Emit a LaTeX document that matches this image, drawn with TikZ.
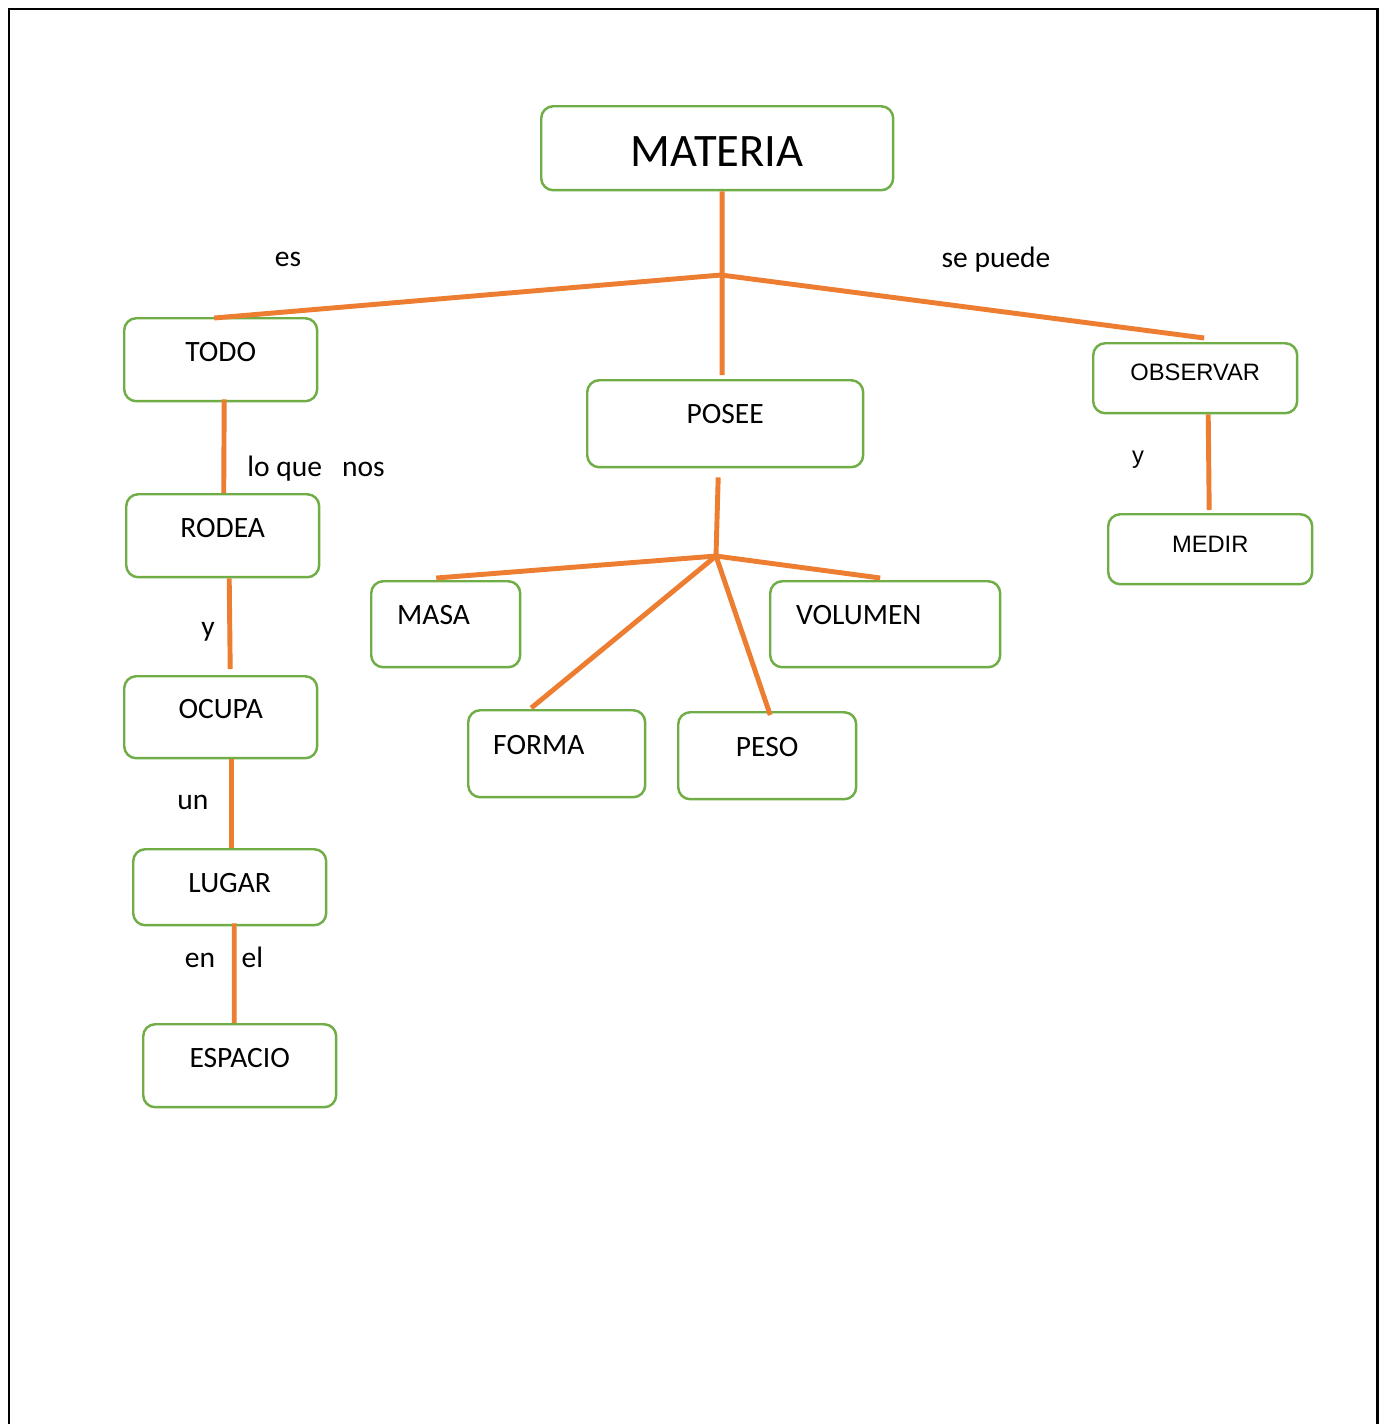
\documentclass[tikz,border=0pt]{standalone}
\usepackage{fontspec}
\setmainfont{Carlito}
\newfontfamily\arialfont{Liberation Sans}
\usetikzlibrary{positioning}
\definecolor{leaf}{RGB}{112,173,71}
\definecolor{tangerine}{RGB}{237,125,49}

\begin{document}
\begin{tikzpicture}[x=0.02cm,y=-0.02cm,
    box/.style={draw=leaf,line width=1.4pt,rounded corners=0.24cm,anchor=north west,inner ysep=0pt,
      align=center,text height=0.87cm,font=\fontsize{16.8}{20}\selectfont},
    lbox/.style={box,align=left,inner xsep=0.52cm},
    arialtext/.style={font=\arialfont\fontsize{13.5}{16}\selectfont},
    link/.style={draw=tangerine,line width=2.8pt},
    word/.style={font=\fontsize{16.8}{20}\selectfont}]
    \useasboundingbox (0,0) rectangle (1385,1424);
    \draw[line width=1.7pt] (9,1440) -- (9,9) -- (1377,9) -- (1377,1440);

    % concept boxes
    \node[box,font=\fontsize{26.5}{30}\selectfont,text height=1.21cm,text depth=0.47cm,minimum width=7.04cm] (materia) at (540,105) {MATERIA};
    \node[box,text depth=0.79cm,minimum width=3.86cm] (todo) at (123,317) {TODO};
    \node[box,text depth=0.79cm,minimum width=3.86cm] (rodea) at (125,493) {RODEA};
    \node[box,text height=0.85cm,text depth=0.79cm,minimum width=3.86cm] (ocupa) at (123,675) {OCUPA};
    \node[box,text depth=0.65cm,minimum width=3.86cm] (lugar) at (132,848) {LUGAR};
    \node[box,text depth=0.79cm,minimum width=3.86cm] (espacio) at (142,1023) {ESPACIO};
    \node[box,text depth=0.87cm,minimum width=5.52cm] (posee) at (586,379) {POSEE};
    \node[lbox,text depth=0.85cm,text width=1.94cm] (masa) at (370,580) {MASA};
    \node[lbox,text depth=0.85cm,text width=3.56cm] (volumen) at (769,580) {VOLUMEN};
    \node[lbox,text height=0.89cm,text depth=0.85cm,text width=2.54cm,inner xsep=0.5cm] (forma) at (467,709) {FORMA};
    \node[box,text height=0.89cm,text depth=0.85cm,minimum width=3.56cm] (peso) at (677,711) {PESO};
    \node[box,arialtext,text height=0.75cm,text depth=0.65cm,minimum width=4.08cm] (observar) at (1092,342) {OBSERVAR};
    \node[box,arialtext,text height=0.77cm,text depth=0.63cm,minimum width=4.08cm] (medir) at (1107,513) {MEDIR};

    % linking words
    \node[word] (es) at (288,259) {es};
    \node[word] (sepuede) at (996,260) {se puede};
    \node[word] (loque) at (316,469) {lo que\ \ \ nos};
    \node[word] (y1) at (208,632) {y};
    \node[word] (un) at (193,802) {un};
    \node[word] (enel) at (224,957) {en\ \ \ \ el};
    \node[word,arialtext] (y2) at (1138,460) {y};

    % connectors
    \coordinate (top) at (721,275);
    \coordinate (fork) at (716,556);
    \draw[link] ([shift={(5,0)}]materia.south) -- ([shift={(-3,-4)}]posee.north);
    \draw[link] ([shift={(-6.5,1)}]todo.north) -- (top) -- ([shift={(9,-4)}]observar.north);
    \draw[link] ([shift={(3.5,-3)}]todo.south) -- ([shift={(1,0)}]rodea.north);
    \draw[link] ([shift={(6.5,0)}]rodea.south) -- ([shift={(9.5,-6)}]ocupa.north);
    \draw[link] ([shift={(11,0)}]ocupa.south) -- ([shift={(2,0)}]lugar.north);
    \draw[link] ([shift={(4.5,-3)}]lugar.south) -- ([shift={(-5.5,0)}]espacio.north);
    \draw[link] ([shift={(13,0)}]observar.south) -- ([shift={(-1,-3)}]medir.north);
    \draw[link] ([shift={(-7,9)}]posee.south) -- (fork);
    \draw[link] (fork) -- ([shift={(-9.5,-2)}]masa.north);
    \draw[link] (fork) -- ([shift={(-5,-2)}]volumen.north);
    \draw[link] (fork) -- ([shift={(-25.5,-1)}]forma.north);
    \draw[link] (fork) -- ([shift={(3,4)}]peso.north);
\end{tikzpicture}
\end{document}
